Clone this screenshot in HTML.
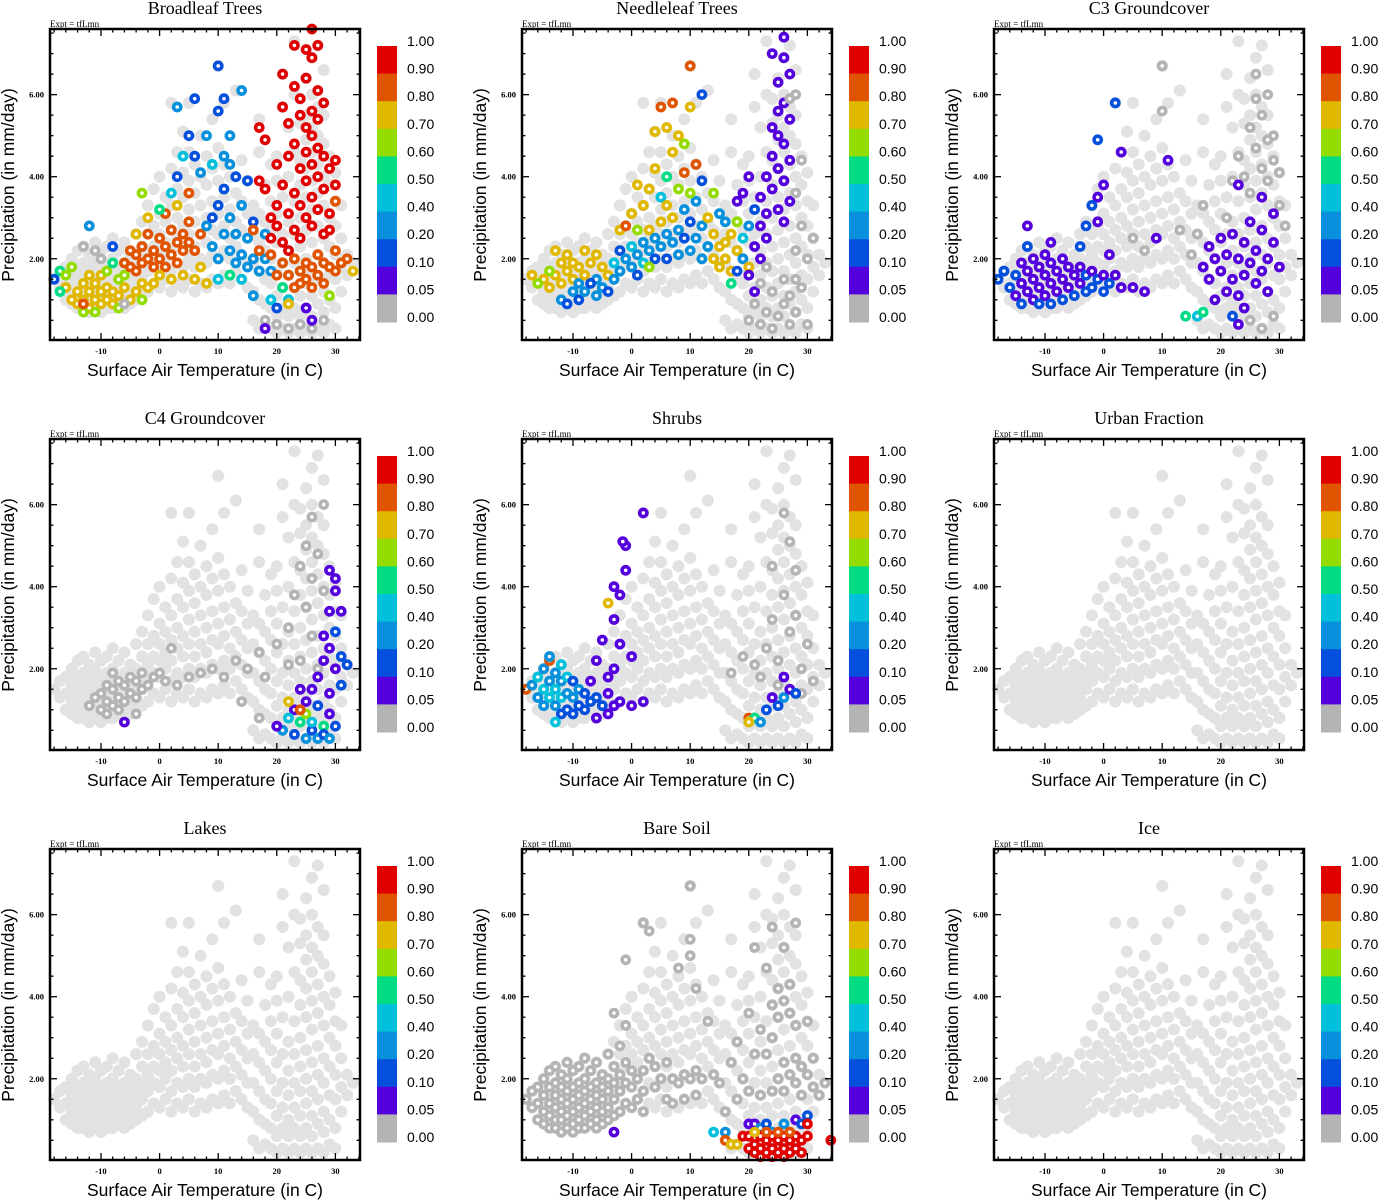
<!DOCTYPE html>
<html><head><meta charset="utf-8">
<style>
html,body{margin:0;padding:0;background:#fff;}
svg{display:block;}
.serif{font-family:"Liberation Serif",serif;}
.sans{font-family:"Liberation Sans",sans-serif;}
</style></head>
<body>
<svg id="chart" width="1378" height="1200" viewBox="0 0 1378 1200" xmlns="http://www.w3.org/2000/svg"></svg>
<script>
const panelTitles = ["Broadleaf Trees","Needleleaf Trees","C3 Groundcover","C4 Groundcover","Shrubs","Urban Fraction","Lakes","Bare Soil","Ice"];
const xTicks = [-10,0,10,20,30];
const yTicks = [2,4,6];
const yTickLabels = ["2.00","4.00","6.00"];
const cbLabels = ["1.00","0.90","0.80","0.70","0.60","0.50","0.40","0.20","0.10","0.05","0.00"];
const cbThresholds = [0.05,0.1,0.2,0.4,0.5,0.6,0.7,0.8,0.9];
const cbColors = ["#b4b4b4","#5400dc","#0450dc","#0890dc","#00c0dc","#00dc84","#94dc00","#e0b800","#e05400","#e00000"];

const baseCloud = [[-18,1.5],[-17,1.3],[-17,1.7],[-16,1.0],[-16,1.4],[-16,1.8],[-15,0.9],[-15,1.2],[-15,1.6],[-15,2.0],[-14,0.8],[-14,1.1],[-14,1.4],[-14,1.8],[-14,2.2],[-13,0.8],[-13,1.0],[-13,1.3],[-13,1.6],[-13,1.9],[-13,2.3],[-12,0.7],[-12,1.0],[-12,1.2],[-12,1.5],[-12,1.8],[-12,2.1],[-11,0.8],[-11,1.1],[-11,1.4],[-11,1.7],[-11,2.0],[-11,2.4],[-10,0.7],[-10,0.9],[-10,1.2],[-10,1.5],[-10,1.8],[-10,2.2],[-9,0.8],[-9,1.0],[-9,1.3],[-9,1.6],[-9,1.9],[-9,2.3],[-8,0.8],[-8,1.1],[-8,1.4],[-8,1.7],[-8,2.0],[-8,2.5],[-7,0.9],[-7,1.2],[-7,1.5],[-7,1.8],[-7,2.2],[-6,0.8],[-6,1.0],[-6,1.3],[-6,1.6],[-6,1.9],[-6,2.4],[-5,0.9],[-5,1.2],[-5,1.5],[-5,1.8],[-5,2.1],[-4,1.0],[-4,1.3],[-4,1.7],[-4,2.0],[-4,2.6],[-3,1.1],[-3,1.5],[-3,1.9],[-3,2.3],[-3,2.9],
[-2,1.2],[-2,1.7],[-2,2.1],[-2,2.6],[-2,3.3],[-1,1.4],[-1,1.9],[-1,2.3],[-1,2.8],[-1,3.7],[0,1.3],[0,1.8],[0,2.2],[0,2.6],[0,3.1],[0,4.0],[1,1.5],[1,2.0],[1,2.4],[1,2.9],[1,3.5],[2,1.2],[2,1.7],[2,2.2],[2,2.7],[2,3.3],[2,4.2],[2,5.8],[3,1.4],[3,1.9],[3,2.5],[3,3.0],[3,3.7],[3,4.6],[4,1.3],[4,1.8],[4,2.3],[4,2.8],[4,3.5],[4,4.1],[4,5.1],[5,1.5],[5,2.0],[5,2.6],[5,3.2],[5,3.9],[5,4.6],[5,5.8],[6,1.2],[6,1.8],[6,2.3],[6,2.9],[6,3.6],[6,4.3],[7,1.4],[7,2.0],[7,2.6],[7,3.3],[7,4.0],[7,5.0],[8,1.3],[8,1.9],[8,2.4],[8,3.0],[8,3.8],[8,4.5],[9,1.5],[9,2.1],[9,2.7],[9,3.4],[9,4.2],[9,5.4],[10,1.4],[10,2.0],[10,2.6],[10,3.1],[10,3.9],[10,4.7],[10,6.7],[11,1.6],[11,2.2],[11,2.8],[11,3.5],[11,4.3],[11,5.8],[12,1.4],[12,2.0],[12,2.5],[12,3.2],[12,4.0],[13,1.7],[13,2.3],[13,2.9],[13,3.6],[13,6.1],[14,1.5],[14,2.1],[14,2.7],[14,3.4],[14,4.4],[15,1.3],[15,1.9],[15,2.5],[15,3.1],[15,3.9],
[16,0.5],[16,1.2],[16,1.9],[16,2.6],[16,3.3],[17,0.3],[17,1.0],[17,1.7],[17,2.4],[17,3.1],[17,4.6],[17,5.4],[18,0.4],[18,0.9],[18,1.5],[18,2.2],[18,2.9],[18,3.8],[19,0.3],[19,0.8],[19,1.4],[19,2.0],[19,2.7],[19,3.4],[19,4.3],[20,0.2],[20,0.6],[20,1.1],[20,1.7],[20,2.4],[20,3.1],[20,3.9],[20,4.5],[21,0.3],[21,0.8],[21,1.3],[21,1.9],[21,2.6],[21,3.5],[21,5.7],[21,6.5],[22,0.2],[22,0.6],[22,1.0],[22,1.6],[22,2.2],[22,2.9],[22,4.0],[22,5.2],[23,0.3],[23,0.8],[23,1.3],[23,1.9],[23,2.6],[23,3.4],[23,4.6],[23,6.0],[23,7.3],[24,0.2],[24,0.6],[24,1.1],[24,1.7],[24,2.3],[24,3.0],[24,3.8],[24,4.4],[24,5.3],[24,5.9],[25,0.3],[25,0.8],[25,1.4],[25,2.0],[25,2.7],[25,3.5],[25,4.2],[25,4.9],[25,5.5],[25,6.4],[26,0.2],[26,0.6],[26,1.1],[26,1.7],[26,2.4],[26,3.2],[26,3.9],[26,4.6],[26,5.2],[26,6.0],[26,6.9],[27,0.3],[27,0.9],[27,1.5],[27,2.1],[27,2.8],[27,3.6],[27,4.3],[27,5.0],[27,5.7],[27,7.2],[28,0.2],[28,0.7],[28,1.2],[28,1.9],[28,2.5],[28,3.3],[28,4.0],[28,4.8],[28,5.5],[28,6.6],[29,0.4],[29,1.0],[29,1.6],[29,2.3],[29,3.0],[29,3.8],[29,4.5],[30,0.3],[30,0.8],[30,1.5],[30,2.1],[30,2.8],[30,3.4],[30,4.1],[31,1.2],[31,1.8],[31,2.5],[31,3.3],[32,1.6],[32,2.1],[33,1.9]];

const broadleaf = [[-16,1.3,.75],[-15,1.0,.75],[-14,1.2,.75],[-14,0.9,.75],[-13,1.4,.75],[-13,1.0,.75],[-12,0.8,.75],[-12,1.2,.75],[-12,1.6,.75],[-11,1.0,.75],[-11,1.4,.75],[-10,0.9,.75],[-10,1.2,.75],[-10,1.6,.75],[-9,1.0,.75],[-9,1.3,.75],[-8,0.9,.75],[-8,1.2,.75],[-7,1.1,.75],[-6,1.3,.75],[-5,1.0,.75],[-4,1.2,.75],[-3,1.4,.75],[-2,1.3,.75],
[-17,1.7,.55],[-16,1.6,.65],[-15,1.8,.65],[-17,1.2,.55],[-13,0.7,.65],[-11,0.7,.65],[-9,1.7,.65],[-7,1.5,.65],[-7,0.8,.65],[-8,1.9,.55],[-6,1.6,.65],[-3,1.0,.65],[-18,1.5,.15],[-13,0.9,.85],
[-6,1.9,.85],[-5,1.8,.85],[-5,2.2,.85],[-4,1.7,.85],[-4,2.1,.85],[-3,1.9,.85],[-3,2.3,.85],[-2,2.0,.85],[-2,2.6,.85],[-1,1.8,.85],[-1,2.2,.85],[0,2.0,.85],[0,2.5,.85],[1,2.3,.85],[1,1.8,.85],[2,2.1,.85],[2,2.7,.85],[3,2.4,.85],[3,1.9,.85],[4,2.6,.85],[4,2.2,.85],[5,2.4,.85],[5,2.9,.85],[6,2.2,.85],[7,2.6,.85],[1,3.1,.85],[-1,1.4,.75],[0,1.6,.75],[2,1.5,.75],[4,1.6,.75],[6,1.5,.75],[7,1.8,.75],[8,1.4,.75],[-4,2.6,.75],[-2,3.0,.75],[-3,3.6,.65],[3,3.3,.75],[5,3.6,.85],
[8,2.8,.3],[9,2.3,.3],[10,2.0,.3],[10,3.3,.15],[11,2.6,.3],[11,3.7,.15],[12,2.2,.3],[12,3.0,.3],[13,1.9,.3],[13,2.6,.3],[14,2.1,.3],[14,3.3,.3],[15,1.8,.3],[15,2.5,.3],[16,2.0,.3],[16,2.9,.15],[17,1.7,.3],[18,2.0,.3],[18,2.6,.3],[19,1.7,.3],[12,4.3,.3],[11,4.5,.3],[9,4.3,.45],[7,4.1,.3],[6,4.5,.15],[5,5.0,.15],[4,4.5,.45],[3,4.0,.15],[2,3.6,.45],[0,3.2,.55],[8,5.0,.3],[10,5.6,.15],[11,5.9,.15],[10,6.7,.15],[6,5.9,.15],[3,5.7,.3],[14,6.1,.3],[12,5.0,.3],[13,4.0,.15],[15,3.9,.15],[10,1.5,.45],[12,1.6,.55],[16,1.1,.3],[19,1.0,.45],[20,0.8,.15],[21,1.3,.55],[22,1.0,.45],[14,1.5,.45],[-12,2.8,.3],[-8,2.3,.15],[9,3.0,.15],
[17,3.9,.95],[17,5.2,.95],[18,4.9,.95],[18,3.7,.95],[19,3.0,.95],[19,2.5,.95],[20,2.8,.95],[20,3.3,.95],[20,4.3,.95],[21,2.4,.95],[21,3.8,.95],[21,5.7,.95],[21,6.5,.95],[22,3.1,.95],[22,4.5,.95],[22,5.3,.95],[23,2.7,.95],[23,3.6,.95],[23,4.8,.95],[23,7.2,.95],[23,6.2,.95],[24,3.3,.95],[24,4.2,.95],[24,5.5,.95],[24,5.9,.95],[25,3.0,.95],[25,3.9,.95],[25,4.6,.95],[25,5.2,.95],[25,6.4,.95],[25,7.1,.95],[26,2.8,.95],[26,3.5,.95],[26,4.3,.95],[26,5.0,.95],[26,5.6,.95],[26,6.9,.95],[26,7.6,.95],[27,3.2,.95],[27,4.0,.95],[27,4.7,.95],[27,5.4,.95],[27,6.1,.95],[27,7.2,.95],[28,2.6,.95],[28,3.7,.95],[28,4.5,.95],[28,5.8,.95],[29,3.1,.95],[29,4.2,.95],[29,2.7,.95],[30,3.8,.95],[30,4.4,.95],[30,3.4,.85],[22,2.2,.95],[24,2.5,.95],
[19,2.1,.85],[20,1.6,.85],[21,1.9,.85],[22,1.6,.85],[23,1.3,.85],[23,2.0,.85],[24,1.7,.85],[24,1.4,.85],[25,1.9,.85],[25,1.5,.85],[26,1.8,.85],[26,1.3,.85],[27,2.1,.85],[27,1.6,.85],[28,1.9,.85],[28,1.4,.85],[29,1.8,.85],[30,2.2,.85],[30,1.7,.85],[31,1.9,.85],[32,2.0,.85],[22,0.9,.75],[29,1.1,.65],[33,1.7,.75],[16,2.7,.85],[17,2.2,.85],
[18,0.5,0],[20,0.4,0],[22,0.3,0],[24,0.4,0],[26,0.3,0],[28,0.5,0],[-13,2.3,0],[-11,2.2,0],[-10,2.0,0],[-6,0.9,0],[18,0.3,.07],[26,0.5,.07],[25,0.8,.07]];

const needleleaf = [[-14,1.3,.75],[-13,1.6,.75],[-12,1.9,.75],[-12,1.4,.75],[-11,1.7,.75],[-11,2.1,.75],[-10,1.5,.75],[-10,1.9,.75],[-9,1.8,.75],[-9,1.4,.3],[-8,1.6,.75],[-8,2.2,.75],[-7,1.9,.75],[-6,2.1,.75],[-6,1.5,.3],[-5,1.8,.75],[-4,1.6,.75],[-12,1.0,.3],[-11,0.9,.15],[-10,1.2,.3],[-9,1.0,.15],[-8,1.2,.3],[-7,1.4,.15],[-6,1.1,.3],[-5,1.3,.3],[-4,1.2,.15],[-3,1.5,.3],[-3,1.9,.45],[-2,1.7,.3],[-2,2.2,.15],[-1,2.0,.3],[0,1.8,.3],[0,2.3,.45],[1,2.1,.3],[1,1.6,.15],[2,2.4,.3],[2,1.9,.45],[3,2.2,.3],[3,2.7,.75],[4,2.0,.15],[4,2.5,.3],[5,2.3,.3],[5,2.9,.75],[6,2.6,.3],[6,2.0,.15],[7,2.4,.3],[7,3.0,.75],[8,2.1,.3],[8,2.7,.3],[9,2.5,.15],[9,3.2,.3],[10,2.2,.3],[10,2.9,.15],[11,2.5,.3],[11,3.4,.3],[12,2.0,.3],[12,2.8,.3],[13,2.3,.3],[14,2.6,.75],[14,2.0,.75],[15,2.3,.75],[15,1.8,.75],[16,2.4,.75],[16,2.0,.75],[17,2.6,.75],[17,1.7,.75],[18,2.2,.75],[18,2.9,.65],[19,2.0,.3],[19,2.5,.45],[20,1.8,.75],[20,2.8,.3],[21,3.2,.15],[-14,1.7,.65],[-15,1.5,.75],[-13,2.2,.75],[-2,2.7,.75],[0,3.1,.75],[2,3.3,.75],[3,3.7,.75],[4,4.2,.75],[5,3.5,.45],[6,4.0,.55],[6,3.3,.75],[7,4.6,.75],[8,3.7,.65],[9,4.1,.85],[10,3.6,.65],[1,3.8,.75],[4,5.1,.75],[5,5.7,.85],[6,5.2,.75],[7,5.8,.85],[8,5.0,.75],[9,4.8,.65],[10,5.7,.75],[11,4.3,.85],[12,3.9,.15],[12,6.0,.15],[10,6.7,.85],[13,3.0,.75],[14,3.6,.65],[15,3.1,.3],[16,2.9,.3],[-16,1.4,.65],[-17,1.6,.75],[-1,2.8,.85],[1,2.7,.65],[3,1.8,.65],[17,1.4,.55],[18,1.7,.15],
[21,2.3,.07],[22,2.8,.07],[22,3.5,.07],[23,3.1,.07],[23,4.0,.07],[24,3.7,.07],[24,4.5,.07],[24,5.2,.07],[25,4.2,.07],[25,5.0,.07],[25,5.6,.07],[25,6.3,.07],[26,3.9,.07],[26,4.8,.07],[26,5.8,.07],[26,6.9,.07],[26,7.4,.07],[27,5.4,.07],[27,6.5,.07],[27,4.4,.07],[27,3.4,.07],[26,2.9,.07],[25,3.2,.07],[24,7.0,.07],[23,2.5,.07],[20,1.6,.07],[22,2.0,.07],[18,3.4,.07],[19,3.6,.07],[20,4.0,.07],[21,1.2,.07],
[20,0.5,0],[21,0.9,0],[22,0.4,0],[23,0.7,0],[24,0.3,0],[24,1.2,0],[25,0.6,0],[26,0.9,0],[26,1.5,0],[27,0.4,0],[27,1.1,0],[28,0.7,0],[28,1.5,0],[28,2.2,0],[29,1.3,0],[29,2.8,0],[28,3.6,0],[29,4.4,0],[27,5.9,0],[28,6.0,0],[30,2.0,0],[31,2.5,0],[30,0.4,0],[22,1.4,0],[23,1.8,0]];

const c3ground = [[21,3.0,0],[22,3.9,0],[23,4.5,0],[24,4.0,0],[25,3.6,0],[25,5.2,0],[26,4.7,0],[26,5.9,0],[27,4.2,0],[27,5.5,0],[28,3.9,0],[28,4.9,0],[28,6.0,0],[29,4.4,0],[29,5.0,0],[30,3.3,0],[30,4.1,0],[31,2.8,0],[26,6.5,0],[13,2.7,0],[15,2.1,0],[16,2.6,0],[17,3.3,0],[25,0.5,0],[27,0.3,0],[29,0.6,0],[7,2.2,0],[5,2.5,0],[10,6.7,0],[10,5.6,0],
[-18,1.5,.15],[-17,1.7,.15],[-16,1.3,.15],[-15,1.6,.15],[-15,1.1,.07],[-14,1.9,.07],[-14,1.4,.07],[-14,0.9,.15],[-13,1.7,.07],[-13,1.2,.07],[-12,2.0,.07],[-12,1.5,.07],[-12,1.0,.07],[-11,1.8,.07],[-11,1.3,.07],[-11,0.9,.15],[-10,2.1,.07],[-10,1.6,.07],[-10,1.1,.07],[-9,1.9,.07],[-9,1.4,.07],[-9,0.9,.15],[-8,1.7,.07],[-8,1.2,.07],[-7,2.0,.07],[-7,1.5,.07],[-7,1.0,.15],[-6,1.8,.07],[-6,1.3,.07],[-5,1.6,.07],[-5,1.1,.15],[-4,1.8,.07],[-4,1.4,.07],[-3,1.6,.15],[-3,1.2,.15],[-2,1.7,.07],[-2,1.3,.15],[-1,1.5,.15],[0,1.6,.07],[0,1.2,.15],[1,1.4,.15],[2,1.6,.07],[3,1.3,.07],[5,1.3,.07],[-13,2.3,.15],[-9,2.4,.07],[-1,2.9,.07],[-1,3.5,.07],[0,3.8,.07],[1,2.1,.07],[3,4.6,.07],[-1,4.9,.15],[-4,2.3,.15],[2,5.8,.15],[-2,3.3,.15],[-3,2.8,.15],[-13,2.8,.07],
[17,1.8,.07],[18,2.3,.07],[18,1.5,.07],[19,2.0,.07],[20,1.7,.07],[20,2.5,.07],[21,2.1,.07],[22,1.5,.07],[22,2.6,.07],[23,2.0,.07],[23,1.1,.07],[24,1.6,.07],[24,2.4,.07],[25,1.9,.07],[25,2.9,.07],[26,1.4,.07],[26,2.2,.07],[27,1.7,.07],[27,2.7,.07],[28,2.0,.07],[28,1.2,.07],[29,2.4,.07],[29,3.1,.07],[30,1.8,.07],[27,3.5,.07],[21,1.2,.07],[24,0.8,.07],[22,0.6,.15],[14,0.6,.55],[16,0.6,.45],[17,0.7,.55],[19,1.0,.07],[23,0.4,.07],[11,4.4,.07],[9,2.5,.07],[7,1.2,.07],[23,3.8,.07]];

const c4ground = [[-10,1.0,0],[-10,1.4,0],[-9,0.9,0],[-9,1.2,0],[-9,1.6,0],[-8,1.1,0],[-8,1.5,0],[-7,1.0,0],[-7,1.3,0],[-7,1.7,0],[-6,1.2,0],[-6,1.6,0],[-5,1.4,0],[-5,1.8,0],[-4,1.3,0],[-4,1.7,0],[-3,1.5,0],[-3,1.9,0],[-2,1.6,0],[-1,1.8,0],[0,1.9,0],[-11,1.3,0],[-12,1.1,0],[-8,1.9,0],[1,1.7,0],[3,1.6,0],[5,1.8,0],[7,1.9,0],[9,2.0,0],[11,1.8,0],[13,2.2,0],[15,2.0,0],[17,2.4,0],[18,1.8,0],[20,2.6,0],[22,3.0,0],[23,3.8,0],[24,4.5,0],[25,3.5,0],[25,5.0,0],[26,4.2,0],[26,5.7,0],[27,4.8,0],[28,3.9,0],[28,6.0,0],[24,2.2,0],[26,2.8,0],[27,2.0,0],[22,2.1,0],[14,1.2,0],[2,2.5,0],[-4,0.9,0],[-6,0.7,.07],
[27,1.8,.07],[28,2.2,.07],[28,2.8,.07],[29,3.4,.07],[29,2.5,.07],[30,3.9,.07],[30,2.9,.15],[30,2.0,.07],[31,2.3,.15],[31,1.6,.15],[32,2.1,.15],[29,4.4,.07],[30,4.2,.07],[31,3.4,.07],[26,1.5,.07],[25,1.2,.07],[24,1.5,.07],[23,1.0,.07],[29,1.4,.07],[27,1.1,.15],[21,0.5,.3],[22,0.8,.45],[23,0.4,.15],[24,0.7,.55],[25,0.3,.3],[25,0.9,.65],[26,0.5,.15],[26,0.7,.45],[27,0.3,.3],[28,0.6,.55],[28,0.4,.15],[29,0.9,.07],[29,0.3,.3],[30,0.6,.15],[22,1.2,.75],[24,1.0,.85],[20,0.6,.07],[17,0.8,0]];

const shrubs = [[22,1.8,0],[23,2.5,0],[24,3.2,0],[25,2.2,0],[26,3.8,0],[27,2.9,0],[28,4.4,0],[28,3.3,0],[29,2.0,0],[27,5.1,0],[26,5.8,0],[24,4.5,0],[17,1.9,0],[19,2.3,0],[21,2.1,0],[30,2.6,0],[29,1.4,0],[31,1.7,0],[25,1.6,0],
[-18,1.5,.85],[-17,1.6,.3],[-16,1.3,.3],[-16,1.8,.45],[-15,1.1,.3],[-15,1.5,.45],[-15,2.0,.3],[-14,1.3,.45],[-14,1.7,.3],[-14,2.2,.85],[-13,1.1,.3],[-13,1.5,.45],[-13,1.9,.3],[-12,0.9,.15],[-12,1.3,.45],[-12,1.7,.3],[-12,2.1,.45],[-11,1.0,.15],[-11,1.4,.3],[-11,1.8,.45],[-10,0.9,.15],[-10,1.3,.3],[-10,1.7,.15],[-9,1.1,.15],[-9,1.5,.3],[-8,1.0,.15],[-8,1.4,.15],[-7,1.2,.15],[-7,1.7,.07],[-6,0.8,.07],[-6,1.3,.15],[-5,1.1,.15],[-4,0.9,.07],[-4,1.4,.07],[-3,1.1,.07],[-2,1.2,.07],[0,1.1,.07],[2,1.2,.07],[-13,0.7,.45],[-14,2.3,.3],[-4,3.6,.75],[-3,3.2,.07],[-2,3.8,.07],[-3,4.0,.07],[-1,4.4,.07],[-1,5.0,.07],[-1.5,5.1,.07],[2,5.8,.07],[-6,2.2,.07],[-4,1.8,.07],[-2,2.6,.07],[0,2.3,.07],[-3,2.0,.07],[-5,2.7,.07],
[20,0.8,.85],[21,0.8,.55],[22,0.7,.3],[23,1.0,.15],[24,1.3,.07],[25,1.1,.15],[26,1.3,.3],[27,1.5,.07],[28,1.4,.15],[26,1.8,.07],[20,0.7,.75]];

const bareSoil = [[-18,1.5,0],[-17,1.3,0],[-17,1.7,0],[-16,1.0,0],[-16,1.4,0],[-16,1.8,0],[-15,0.9,0],[-15,1.2,0],[-15,1.6,0],[-15,2.0,0],[-14,0.8,0],[-14,1.1,0],[-14,1.4,0],[-14,1.8,0],[-14,2.2,0],[-13,0.8,0],[-13,1.0,0],[-13,1.3,0],[-13,1.6,0],[-13,1.9,0],[-13,2.3,0],[-12,0.7,0],[-12,1.0,0],[-12,1.2,0],[-12,1.5,0],[-12,1.8,0],[-12,2.1,0],[-11,0.8,0],[-11,1.1,0],[-11,1.4,0],[-11,1.7,0],[-11,2.0,0],[-11,2.4,0],[-10,0.7,0],[-10,0.9,0],[-10,1.2,0],[-10,1.5,0],[-10,1.8,0],[-10,2.2,0],[-9,0.8,0],[-9,1.0,0],[-9,1.3,0],[-9,1.6,0],[-9,1.9,0],[-9,2.3,0],[-8,0.8,0],[-8,1.1,0],[-8,1.4,0],[-8,1.7,0],[-8,2.0,0],[-8,2.5,0],[-7,0.9,0],[-7,1.2,0],[-7,1.5,0],[-7,1.8,0],[-7,2.2,0],[-6,0.8,0],[-6,1.0,0],[-6,1.3,0],[-6,1.6,0],[-6,1.9,0],[-6,2.4,0],[-5,0.9,0],[-5,1.2,0],[-5,1.5,0],[-5,1.8,0],[-5,2.1,0],[-4,1.0,0],[-4,1.3,0],[-4,1.7,0],[-4,2.0,0],[-4,2.6,0],[-3,1.1,0],[-3,1.5,0],[-3,1.9,0],[-3,2.3,0],[-3,3.6,0],[-2,1.2,0],[-2,1.7,0],[-2,2.1,0],[-2,2.8,0],[-1,1.4,0],[-1,1.9,0],[-1,2.4,0],[-1,3.3,0],[-1,4.9,0],[0,1.3,0],[0,1.8,0],[0,2.2,0],[1,1.5,0],[1,2.0,0],[2,1.2,0],[2,1.7,0],[2,2.2,0],[2,5.8,0],[3,2.5,0],[3,5.6,0],[4,1.8,0],[4,2.3,0],[5,2.0,0],[6,1.5,0],[6,2.4,0],[7,1.4,0],[7,2.0,0],[8,1.9,0],[8,4.7,0],[9,1.5,0],[9,2.1,0],[10,2.0,0],[10,5.0,0],[10,5.4,0],[10,6.7,0],[11,1.6,0],[11,2.2,0],[11,4.2,0],[12,2.0,0],[13,3.4,0],[14,2.1,0],[15,1.9,0],[16,1.2,0],[17,2.4,0],[18,1.5,0],[18,2.9,0],[19,2.0,0],[20,1.7,0],[20,3.6,0],[21,2.6,0],[21,5.2,0],[22,1.6,0],[22,3.2,0],[23,2.6,0],[23,4.7,0],[24,1.7,0],[24,3.0,0],[24,3.8,0],[24,5.7,0],[25,2.0,0],[25,3.5,0],[25,4.2,0],[26,1.7,0],[26,2.4,0],[26,3.9,0],[26,5.2,0],[27,2.1,0],[27,3.6,0],[27,4.3,0],[28,1.9,0],[28,2.5,0],[28,3.3,0],[28,5.8,0],[29,1.6,0],[29,2.3,0],[30,2.1,0],[30,3.4,0],[31,1.8,0],[31,2.5,0],[32,1.6,0],[33,1.9,0],[-3,0.7,.07],
[14,0.7,.45],[16,0.7,.3],[16,0.5,.85],[17,0.4,.75],[18,0.4,.75],[20,0.9,.07],[21,0.9,.07],[22,0.8,.3],[23,0.9,.15],[24,0.7,.3],[26,0.9,.3],[28,1.0,.07],[29,0.9,.15],[30,1.1,.15],[30,0.9,.95],[34,0.5,.95],
[19,0.6,.95],[20,0.6,.95],[20,0.3,.95],[21,0.4,.95],[21,0.2,.95],[22,0.6,.95],[22,0.3,.95],[22,0.1,.95],[23,0.5,.95],[23,0.2,.95],[24,0.6,.95],[24,0.3,.95],[24,0.1,.95],[25,0.5,.95],[25,0.2,.95],[26,0.6,.95],[26,0.3,.95],[26,0.1,.95],[27,0.5,.95],[27,0.2,.95],[28,0.6,.95],[28,0.3,.95],[29,0.5,.95],[29,0.2,.95],[30,0.6,.95],[23,0.7,.85],[25,0.7,.85],[27,0.7,.85],[21,0.7,.75]];

const panelSeries = [broadleaf, needleleaf, c3ground, c4ground, shrubs, [], [], bareSoil, []];

const NS = "http://www.w3.org/2000/svg";
const svg = document.getElementById("chart");
const BX0=50, BX1=360, BY0=29, BY1=340;
const TMIN=-18.7, TMAX=34.2, PMIN=0.02, PMAX=7.6;
function xScale(t){ return BX0 + (t - TMIN) / (TMAX - TMIN) * (BX1 - BX0); }
function yScale(p){ return BY1 - (p - PMIN) / (PMAX - PMIN) * (BY1 - BY0); }
function colorFor(v){ let i=0; while(i<cbThresholds.length && v>=cbThresholds[i]) i++; return cbColors[i]; }
function mk(tag, attrs, parent){ const e=document.createElementNS(NS,tag); for(const k in attrs) e.setAttribute(k, attrs[k]); parent.appendChild(e); return e; }
function slug(s){ return s.toLowerCase().replace(/[^a-z0-9]+/g,'-').replace(/-$/,''); }

panelTitles.forEach((title, pi) => {
  const col = pi % 3, row = Math.floor(pi / 3);
  const g = mk("g", {transform:`translate(${col*472},${row*410})`}, svg);
  
  

  const tt = mk("text", {x:205, y:14, "text-anchor":"middle", "font-size":"18", class:"serif"}, g);
  tt.textContent = title;
  
  
  const ex = mk("text", {x:50, y:27, "font-size":"9", class:"serif"}, g);
  ex.textContent = "Expt = tfLmn";
  
  

  const pts = mk("g", {}, g);
  
  
  baseCloud.forEach(p => {
    const c = mk("circle", {cx:xScale(p[0]).toFixed(1), cy:yScale(p[1]).toFixed(1), r:6, fill:"#e2e2e2"}, pts);
    
    
  });
  panelSeries[pi].forEach(p => {
    const col2 = colorFor(p[2]);
    const c = mk("circle", {cx:xScale(p[0]).toFixed(1), cy:yScale(p[1]).toFixed(1), r:3.6, fill:"#fff", stroke:col2, "stroke-width":3.6}, pts);
    
    
  });

  const box = mk("rect", {x:BX0, y:BY0, width:BX1-BX0, height:BY1-BY0, fill:"none", stroke:"#000", "stroke-width":2.5}, g);
  
  
  for(let t=-18; t<=34; t+=2){
    const x=xScale(t), len=(t%10===0)?7:3.5;
    mk("line",{x1:x,y1:BY1,x2:x,y2:BY1-len,stroke:"#000","stroke-width":1.3},g);
    mk("line",{x1:x,y1:BY0,x2:x,y2:BY0+len,stroke:"#000","stroke-width":1.3},g);
  }
  for(let p=0.5; p<=7.5; p+=0.5){
    const y=yScale(p), len=(p%2===0)?7:3.5;
    mk("line",{x1:BX0,y1:y,x2:BX0+len,y2:y,stroke:"#000","stroke-width":1.3},g);
    mk("line",{x1:BX1,y1:y,x2:BX1-len,y2:y,stroke:"#000","stroke-width":1.3},g);
  }
  xTicks.forEach(t => {
    const l = mk("text",{x:xScale(t), y:354, "text-anchor":"middle","font-size":"8.5",class:"serif","font-weight":"bold"},g);
    l.textContent = t;
    
    
  });
  yTicks.forEach((p,i) => {
    const l = mk("text",{x:44, y:yScale(p)+3, "text-anchor":"end","font-size":"8.5",class:"serif","font-weight":"bold"},g);
    l.textContent = yTickLabels[i];
    
    
  });
  const xt = mk("text",{x:205, y:376, "text-anchor":"middle","font-size":"17.5",class:"sans"},g);
  xt.textContent = "Surface Air Temperature (in C)";
  
  
  const yt = mk("text",{x:0, y:0, "text-anchor":"middle","font-size":"17.5",class:"sans",transform:"translate(14,185) rotate(-90)"},g);
  yt.textContent = "Precipitation (in mm/day)";
  
  

  const cb = mk("g", {}, g);
  
  
  const cbTop=46, cbH=27.6;
  cbColors.slice().reverse().forEach((c,i) => {
    const r = mk("rect",{x:377, y:cbTop+i*cbH, width:20, height:cbH+0.5, fill:c},cb);
    
    
  });
  cbLabels.forEach((s,i) => {
    const l = mk("text",{x:407, y:cbTop+i*cbH, "font-size":"14",class:"sans"},cb);
    l.textContent = s;
    
    
  });
});
</script>
</body></html>
